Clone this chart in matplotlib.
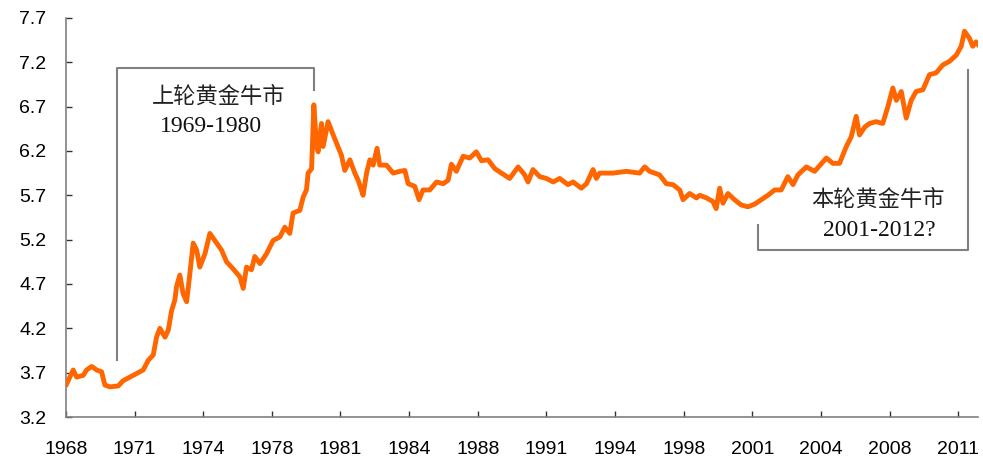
import numpy as np
import matplotlib
matplotlib.use('Agg')
import matplotlib.pyplot as plt

# gold price (log), fractional years
years = [1968.03, 1968.35, 1968.52, 1968.84, 1969.00, 1969.25, 1969.49, 1969.73, 1969.89, 1970.14,
         1970.54, 1970.78, 1971.11, 1971.43, 1971.75, 1972.00, 1972.24, 1972.40, 1972.56, 1972.81,
         1972.97, 1973.13, 1973.29, 1973.37, 1973.53, 1973.69, 1973.86, 1974.02, 1974.18, 1974.35,
         1974.50, 1974.75, 1974.99, 1975.32, 1975.56, 1975.80, 1976.12, 1976.45, 1976.61, 1976.77,
         1977.01, 1977.17, 1977.42, 1977.74, 1978.06, 1978.39, 1978.63, 1978.87, 1979.03, 1979.36,
         1979.52, 1979.68, 1979.76, 1979.93, 1979.98, 1980.04, 1980.17, 1980.25, 1980.41, 1980.49,
         1980.73, 1980.98, 1981.22, 1981.38, 1981.54, 1981.79, 1982.03, 1982.19, 1982.35, 1982.43,
         1982.60, 1982.76, 1982.92, 1983.11, 1983.24, 1983.57, 1983.89, 1984.21, 1984.46, 1984.62,
         1984.94, 1985.15, 1985.34, 1985.67, 1986.00, 1986.32, 1986.56, 1986.72, 1986.96, 1987.29,
         1987.61, 1987.93, 1988.18, 1988.50, 1988.83, 1989.15, 1989.55, 1989.96, 1990.28, 1990.44,
         1990.68, 1991.01, 1991.33, 1991.66, 1991.98, 1992.38, 1992.63, 1993.03, 1993.28, 1993.60,
         1993.76, 1993.92, 1994.57, 1995.22, 1995.86, 1996.11, 1996.35, 1996.83, 1997.16, 1997.48,
         1997.81, 1997.97, 1998.29, 1998.62, 1998.78, 1999.11, 1999.42, 1999.58, 1999.75, 1999.91,
         2000.15, 2000.47, 2000.80, 2001.12, 2001.45, 2001.77, 2002.09, 2002.42, 2002.74, 2003.06,
         2003.31, 2003.55, 2003.96, 2004.36, 2004.93, 2005.25, 2005.57, 2005.90, 2006.14, 2006.38,
         2006.54, 2006.80, 2007.03, 2007.35, 2007.67, 2007.92, 2008.16, 2008.33, 2008.57, 2008.81,
         2009.05, 2009.29, 2009.62, 2009.94, 2010.26, 2010.59, 2010.91, 2011.24, 2011.48, 2011.64,
         2011.88, 2012.04, 2012.20, 2012.30]
values = [3.57, 3.73, 3.65, 3.67, 3.73, 3.77, 3.73, 3.71, 3.56, 3.54,
          3.55, 3.61, 3.65, 3.69, 3.73, 3.84, 3.90, 4.10, 4.20, 4.10,
          4.18, 4.40, 4.52, 4.67, 4.80, 4.59, 4.50, 4.82, 5.16, 5.08,
          4.89, 5.04, 5.27, 5.16, 5.08, 4.95, 4.87, 4.78, 4.65, 4.89,
          4.86, 5.01, 4.93, 5.04, 5.19, 5.23, 5.34, 5.27, 5.50, 5.53,
          5.68, 5.76, 5.95, 6.00, 6.32, 6.72, 6.25, 6.19, 6.51, 6.25,
          6.53, 6.38, 6.24, 6.15, 5.98, 6.10, 5.95, 5.87, 5.76, 5.70,
          5.95, 6.10, 6.04, 6.23, 6.04, 6.04, 5.95, 5.97, 5.98, 5.83,
          5.80, 5.65, 5.76, 5.76, 5.85, 5.83, 5.87, 6.05, 5.97, 6.14,
          6.12, 6.19, 6.09, 6.10, 6.00, 5.95, 5.89, 6.02, 5.93, 5.85,
          5.99, 5.91, 5.89, 5.85, 5.89, 5.82, 5.85, 5.78, 5.83, 5.99,
          5.89, 5.95, 5.95, 5.97, 5.95, 6.02, 5.97, 5.93, 5.83, 5.82,
          5.76, 5.65, 5.72, 5.67, 5.70, 5.67, 5.63, 5.55, 5.78, 5.61,
          5.72, 5.65, 5.59, 5.57, 5.60, 5.65, 5.70, 5.76, 5.76, 5.91,
          5.82, 5.93, 6.02, 5.97, 6.12, 6.06, 6.06, 6.25, 6.36, 6.59,
          6.38, 6.47, 6.51, 6.53, 6.51, 6.70, 6.91, 6.77, 6.87, 6.57,
          6.77, 6.87, 6.89, 7.06, 7.08, 7.17, 7.21, 7.28, 7.38, 7.55,
          7.47, 7.38, 7.43, 7.40]

y_ticks = [3.2, 3.7, 4.2, 4.7, 5.2, 5.7, 6.2, 6.7, 7.2, 7.7]
x_tick_pos = [1968 + k * 40 / 12 for k in range(14)]
x_tick_labels = [str(int(p)) for p in x_tick_pos]

bracket_old = ([1970.48, 1970.48, 1980.04, 1980.04], [3.84, 7.14, 7.14, 6.89])
bracket_new = ([2001.59, 2001.59, 2011.79, 2011.79], [5.36, 5.08, 5.08, 7.11])

fig = plt.figure(figsize=(9.83, 4.59), dpi=100)
ax = fig.add_axes([0.0671, 0.0915, 0.9279, 0.8695])

ax.plot(years, values, color='#FF6600', linewidth=3.5, solid_joinstyle='round', zorder=3)

# annotation brackets
ax.plot(*bracket_old, color='#808080', linewidth=1.5, zorder=2)
ax.plot(*bracket_new, color='#808080', linewidth=1.5, zorder=2)

cjk = ['Noto Sans CJK SC', 'DejaVu Sans']
serif = ['Liberation Serif', 'Noto Sans CJK SC']
ax.text(1972.17, 6.81, '上轮黄金牛市', family=cjk, fontsize=16, ha='left', va='center', color='#222222')
ax.text(1972.56, 6.47, '1969-1980', family=serif, fontsize=17, ha='left', va='center', color='#111111')
ax.text(2004.2, 5.65, '本轮黄金牛市', family=cjk, fontsize=16, ha='left', va='center', color='#222222')
ax.text(2004.75, 5.30, '2001-2012?', family=serif, fontsize=17, ha='left', va='center', color='#111111')

ax.set_xlim(1968, 2012.3)
ax.set_ylim(3.2, 7.7)
ax.set_yticks(y_ticks)
ax.set_yticklabels([f'{v:.1f}' for v in y_ticks], family='Liberation Sans', fontsize=14)
ax.set_xticks(x_tick_pos)
ax.set_xticklabels(x_tick_labels, family='Liberation Sans', fontsize=14)

for s in ['top', 'right']:
    ax.spines[s].set_visible(False)
for s in ['left', 'bottom']:
    ax.spines[s].set_color('#808080')
    ax.spines[s].set_linewidth(1.2)
ax.tick_params(axis='both', direction='in', length=4, width=1, color='#333333', pad=14)
ax.tick_params(axis='x', pad=17)

plt.savefig('out.png', dpi=100)
